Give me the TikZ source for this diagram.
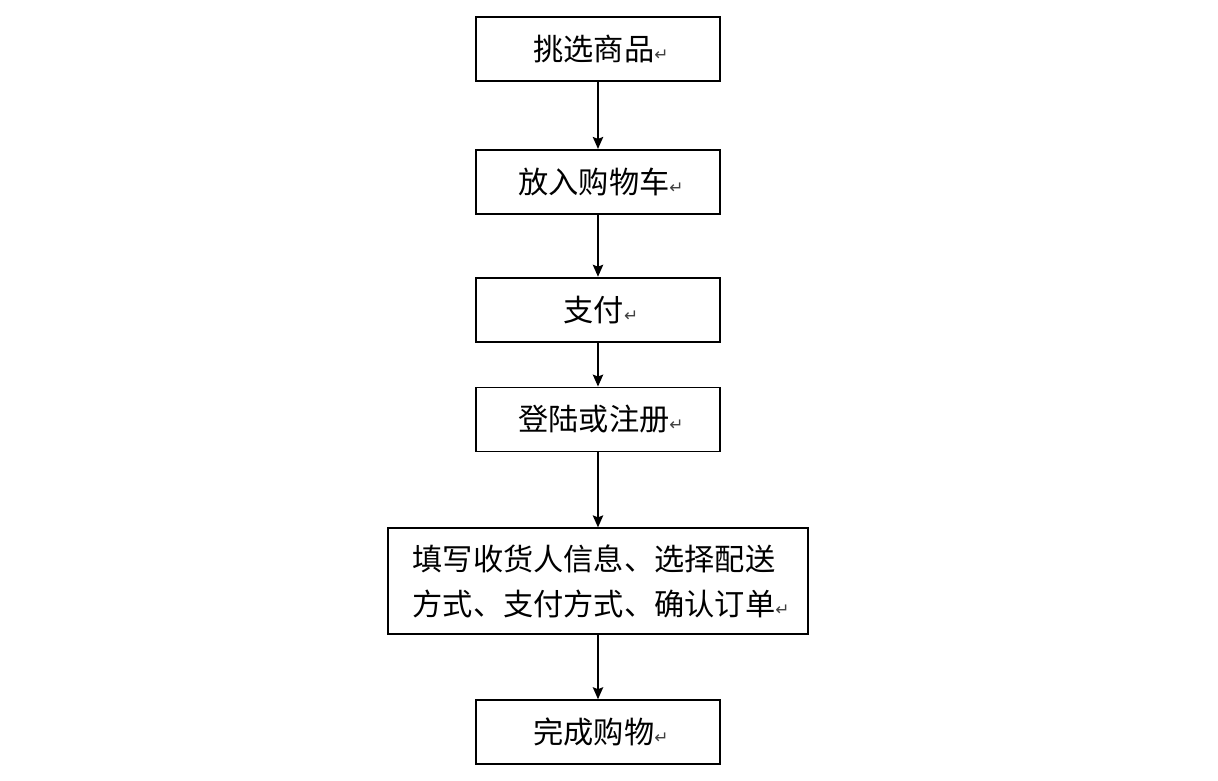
\documentclass[tikz,border=0pt]{standalone}
\usepackage{fontspec}
\setmainfont{Noto Sans CJK SC}
\newfontfamily\symfont{DejaVu Sans}
\usetikzlibrary{arrows.meta, positioning}
\newcommand{\retmark}{{\symfont\fontsize{12}{12}\selectfont\textcolor{black!75}{↵}}}

\begin{document}
\begin{tikzpicture}[
    stepbox/.style={rectangle, draw=black, line width=1.3pt, fill=white,
                    minimum width=6.1cm, minimum height=1.6cm, inner sep=0pt,
                    font=\fontsize{21.5}{32}\selectfont, align=left},
    link/.style={-{Stealth[length=3mm, width=2.6mm, inset=0.5mm]}, line width=1.2pt},
]
\useasboundingbox (-14.95,1.225) rectangle (15.5,-18.275);

% Steps top to bottom
\node[stepbox]                          (pick)   {\hspace{0.15cm}挑选商品\retmark};
\node[stepbox, below=1.675cm of pick]   (cart)   {\hspace{0.15cm}放入购物车\retmark};
\node[stepbox, below=1.55cm of cart]    (pay)    {\hspace{0.15cm}支付\retmark};
\node[stepbox, below=1.1cm of pay]      (login)  {\hspace{0.15cm}登陆或注册\retmark};
\node[stepbox, minimum width=10.5cm, minimum height=2.65cm,
      below=1.875cm of login]           (fill)   {\hspace{0.15cm}填写收货人信息、选择配送\\\hspace{0.15cm}方式、支付方式、确认订单\retmark};
\node[stepbox, below=1.6cm of fill]     (done)   {\hspace{0.15cm}完成购物\retmark};

\draw[link] (pick)  -- (cart);
\draw[link] (cart)  -- (pay);
\draw[link] (pay)   -- (login);
\draw[link] (login) -- (fill);
\draw[link] (fill)  -- (done);

\end{tikzpicture}
\end{document}
